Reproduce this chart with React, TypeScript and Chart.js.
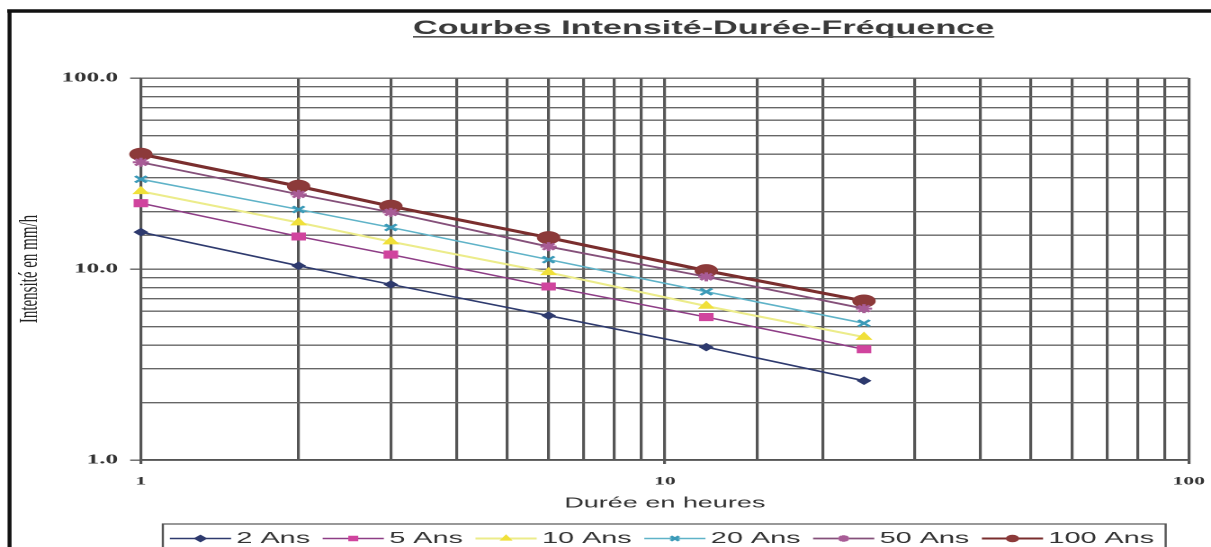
import React, { useEffect, useRef } from "react";
import { Chart, registerables } from "chart.js";
import { drawPoint } from "chart.js/helpers";

Chart.register(...registerables);

// ---- data ----
const durations = [1, 2, 3, 6, 12, 24];
const seriesLabels = ["2 Ans", "5 Ans", "10 Ans", "20 Ans", "50 Ans", "100 Ans"];
const ans2 = [15.6, 10.4, 8.3, 5.7, 3.9, 2.6];
const ans5 = [22.1, 14.8, 11.9, 8.1, 5.6, 3.8];
const ans10 = [25.5, 17.5, 13.9, 9.6, 6.4, 4.4];
const ans20 = [29.5, 20.5, 16.5, 11.2, 7.6, 5.2];
const ans50 = [36.2, 24.6, 19.8, 13.1, 9.1, 6.2];
const ans100 = [39.9, 27.1, 21.3, 14.6, 9.8, 6.8];
const xTickLabels = ["1", "10", "100"];
const yTickLabels = ["1.0", "10.0", "100.0"];
const chartTitle = "Courbes Intensité-Durée-Fréquence";
const xTitle = "Durée en heures";
const yTitle = "Intensité en mm/h";

// ---- styles ----
const seriesValues = [ans2, ans5, ans10, ans20, ans50, ans100];
const lineColors = ["#2e3a6e", "#8e3d86", "#ecec8a", "#5fb3c8", "#85507a", "#7a2e2e"];
const markerColors = ["#2e3a6e", "#d0449e", "#f0e03a", "#3b9ab8", "#a85c96", "#8c3a3a"];
const markerStyles = ["rectRot", "rect", "triangle", "crossRot", "star", "circle"];
const markerRadii = [3.5, 5, 4.5, 4.5, 4.5, 6];
const lineWidths = [1.5, 1.5, 2, 1.5, 1.8, 3];

const isPow10 = (v: number) => Math.abs(Math.log10(v) - Math.round(Math.log10(v))) < 1e-9;

const framePlugin = {
  id: "frame",
  beforeDraw(chart: any) {
    const ctx = chart.ctx;
    ctx.save();
    ctx.fillStyle = "#ffffff";
    ctx.fillRect(0, 0, chart.width, chart.height);
    ctx.strokeStyle = "#111";
    ctx.lineWidth = 3.5;
    ctx.beginPath();
    ctx.moveTo(4, 11);
    ctx.lineTo(chart.width + 5, 11);
    ctx.stroke();
    ctx.lineWidth = 2.2;
    ctx.beginPath();
    ctx.moveTo(5.3, 9.5);
    ctx.lineTo(5.3, chart.height + 5);
    ctx.stroke();
    ctx.restore();
  },
  afterDraw(chart: any) {
    const ctx = chart.ctx;
    ctx.save();
    // title
    ctx.font = 'bold 19px "Liberation Sans", Arial, sans-serif';
    ctx.fillStyle = "#3a3a3a";
    ctx.textBaseline = "alphabetic";
    ctx.textAlign = "left";
    const tx = 229.5;
    const w = ctx.measureText(chartTitle).width;
    ctx.fillText(chartTitle, tx, 34);
    ctx.strokeStyle = "#555";
    ctx.lineWidth = 1.6;
    ctx.beginPath();
    ctx.moveTo(tx, 36.8);
    ctx.lineTo(tx + w, 36.8);
    ctx.stroke();

    // legend
    ctx.strokeStyle = "#555";
    ctx.lineWidth = 1.2;
    ctx.strokeRect(90.5, 524, 557.3, 60);
    ctx.font = '16px "Liberation Sans", Arial, sans-serif';
    ctx.textBaseline = "middle";
    const y = 538.5;
    let x = 94.4;
    chart.data.datasets.forEach((ds: any) => {
      ctx.strokeStyle = ds.borderColor;
      ctx.lineWidth = Math.min(ds.borderWidth, 2);
      ctx.beginPath();
      ctx.moveTo(x, y);
      ctx.lineTo(x + 34, y);
      ctx.stroke();
      ctx.fillStyle = ds.pointBackgroundColor;
      ctx.strokeStyle = ds.pointBorderColor;
      ctx.lineWidth = ds.pointBorderWidth;
      drawPoint(ctx, { pointStyle: ds.pointStyle, radius: 3.2, rotation: 0, borderWidth: ds.pointBorderWidth }, x + 17, y);
      ctx.fillStyle = "#333";
      ctx.fillText(ds.label, x + 37, y);
      x += 37 + ctx.measureText(ds.label).width + 7;
    });
    ctx.restore();
  },
};

export default function App() {
  const ref = useRef<HTMLCanvasElement>(null);
  useEffect(() => {
    const canvas = ref.current;
    if (!canvas) return;
    const datasets = seriesLabels.map((label, i) => ({
      label,
      data: durations.map((d, j) => ({ x: d, y: seriesValues[i][j] })),
      borderColor: lineColors[i],
      backgroundColor: markerColors[i],
      borderWidth: lineWidths[i],
      pointStyle: markerStyles[i],
      pointRadius: markerRadii[i],
      pointBackgroundColor: markerColors[i],
      pointBorderColor: markerColors[i],
      pointBorderWidth: markerStyles[i] === "crossRot" || markerStyles[i] === "star" ? 2 : 1,
      tension: 0,
      fill: false,
      clip: false,
    }));
    const chart = new Chart(canvas, {
      type: "line",
      data: { datasets },
      plugins: [framePlugin],
      options: {
        animation: false,
        responsive: false,
        devicePixelRatio: 2,
        layout: { padding: { top: 78, right: 12.4, left: 0, bottom: 0 } },
        plugins: { legend: { display: false }, title: { display: false }, tooltip: { enabled: false } },
        scales: {
          x: {
            type: "logarithmic",
            min: 1,
            max: 100,
            afterFit: (s: any) => {
              s.height = 87;
              s.paddingRight = 0;
              s.paddingLeft = 0;
            },
            grid: {
              color: "#555",
              lineWidth: 1.6,
              tickLength: 4,
              tickColor: (c: any) => (c.tick && isPow10(c.tick.value) ? "#555" : "rgba(0,0,0,0)"),
            },
            border: { color: "#555", width: 1.6 },
            ticks: {
              autoSkip: false,
              maxRotation: 0,
              padding: 10,
              color: "#333",
              font: { family: '"Liberation Serif", serif', size: 12, weight: "bold" },
              callback: (v: any) => (isPow10(Number(v)) ? xTickLabels[Math.round(Math.log10(Number(v)))] : ""),
            },
            title: {
              display: true,
              text: xTitle,
              color: "#333",
              font: { family: '"Liberation Sans", Arial, sans-serif', size: 15 },
              padding: { top: 0, bottom: 34.5 },
            },
          },
          y: {
            type: "logarithmic",
            min: 1,
            max: 100,
            afterFit: (s: any) => {
              s.width = 78.3;
            },
            grid: {
              color: "#666",
              lineWidth: 1.4,
              tickLength: 6,
              tickColor: (c: any) => (c.tick && isPow10(c.tick.value) ? "#666" : "rgba(0,0,0,0)"),
            },
            border: { color: "#555", width: 1.4 },
            ticks: {
              autoSkip: false,
              padding: 6.7,
              color: "#333",
              font: { family: '"Liberation Serif", serif', size: 14, weight: "bold" },
              callback: (v: any) => (isPow10(Number(v)) ? yTickLabels[Math.round(Math.log10(Number(v)))] : ""),
            },
            title: {
              display: true,
              text: yTitle,
              color: "#222",
              font: { family: '"Liberation Serif", serif', size: 15 },
              padding: { top: 7.4, bottom: 0 },
            },
          },
        },
      },
    } as any);
    return () => chart.destroy();
  }, []);
  return (
    <div style={{ position: "absolute", left: 0, top: 0, width: 1211, height: 547, overflow: "hidden", background: "#fff" }}>
      <canvas ref={ref} width={673} height={547} style={{ width: "1211px", height: "547px" }} />
    </div>
  );
}
